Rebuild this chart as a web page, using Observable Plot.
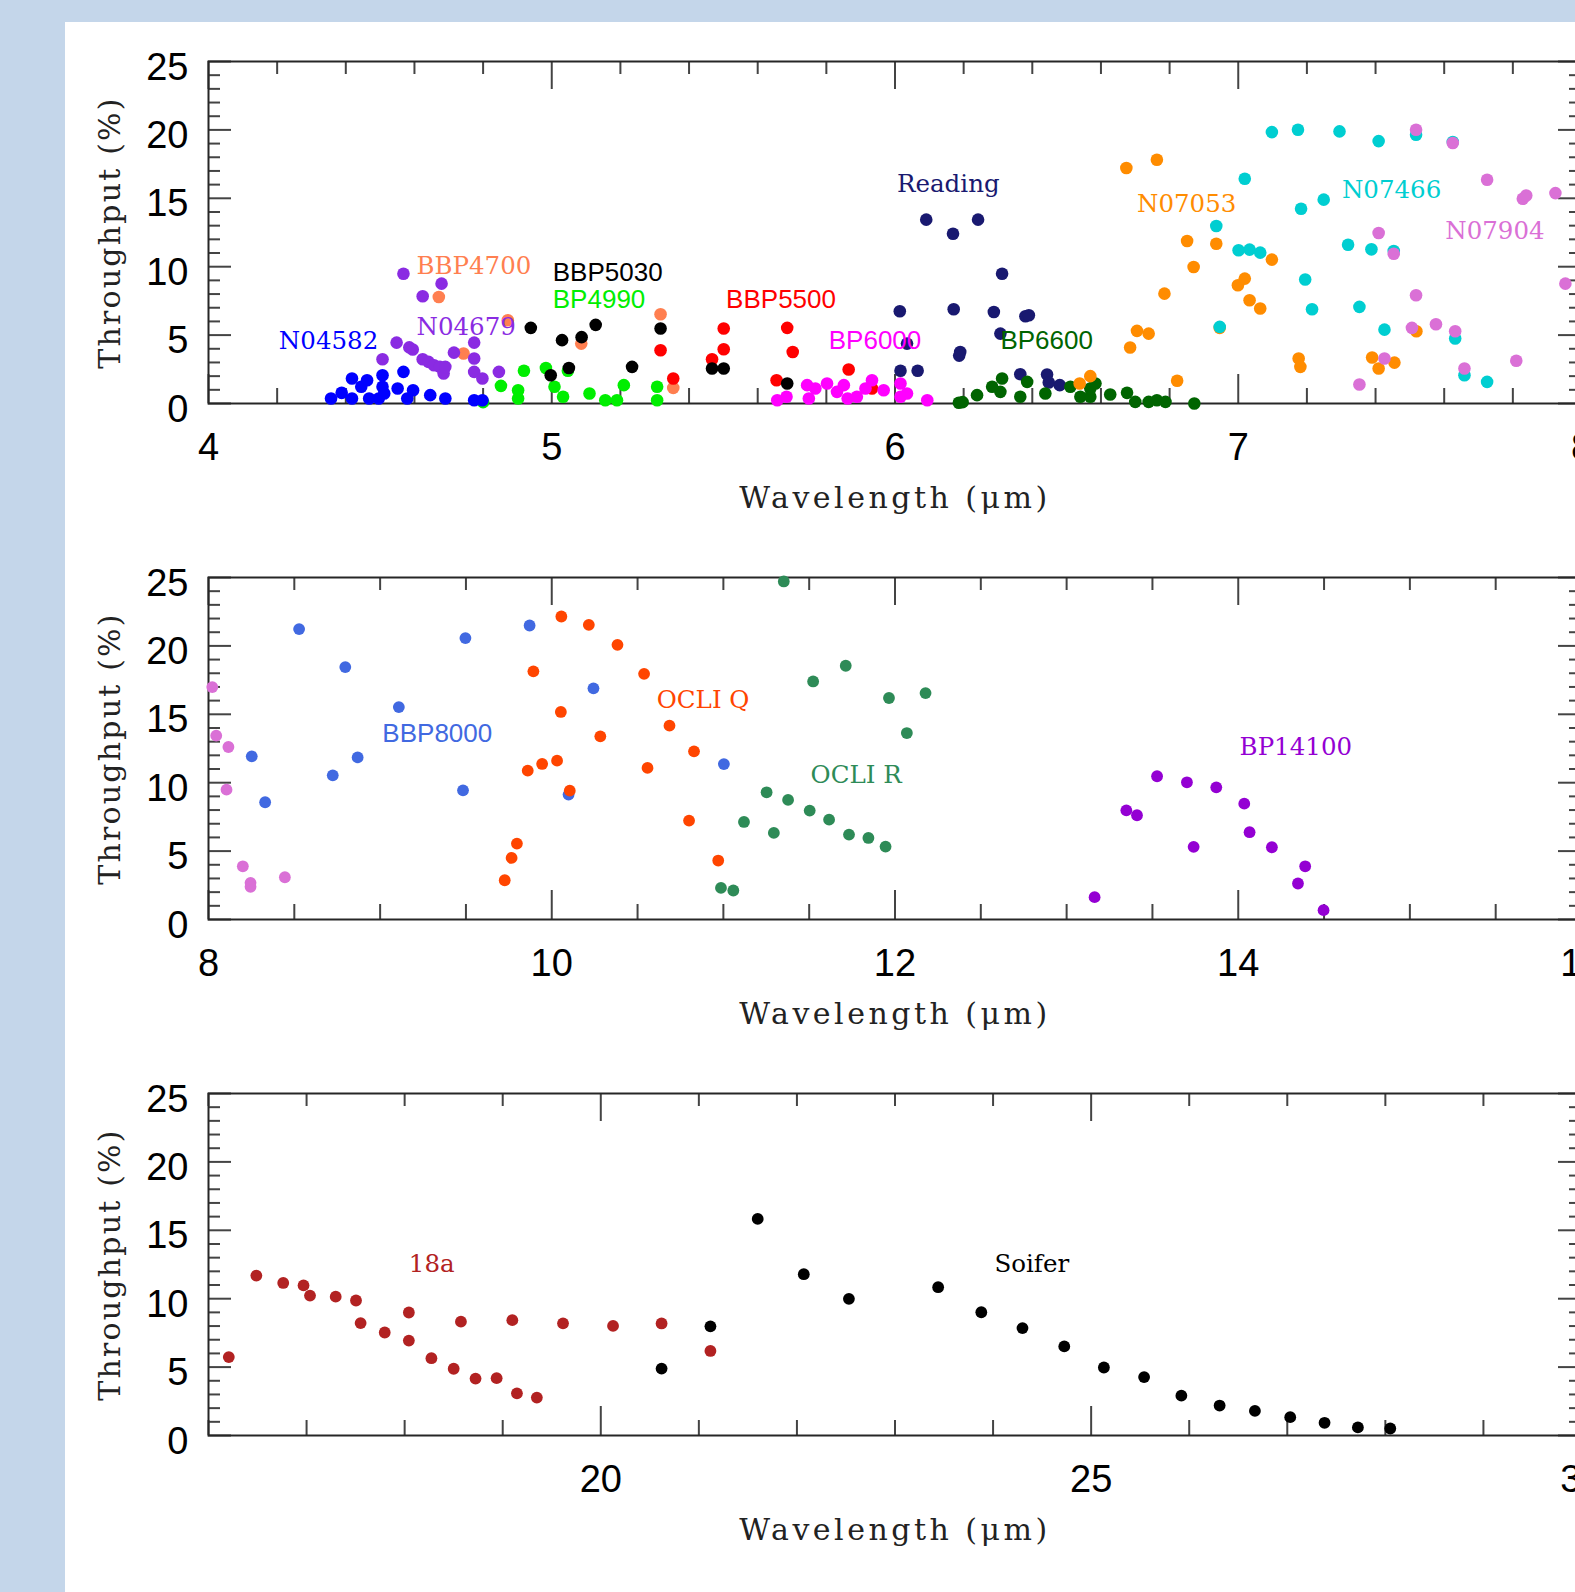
<!DOCTYPE html>
<html><head><meta charset="utf-8">
<script src="https://cdn.jsdelivr.net/npm/d3@7"></script>
<script src="https://cdn.jsdelivr.net/npm/@observablehq/plot@0.6"></script>
<style>
html,body{margin:0;padding:0;width:1575px;height:1592px;overflow:hidden;background:#c4d6ea;}
#sheet{position:absolute;left:65px;top:22px;right:0;bottom:0;background:#fff;}
.panel{position:absolute;left:0;width:1575px;height:516px;}
</style></head><body>
<div id="sheet"></div>
<div id="p1" class="panel" style="top:0px"></div>
<div id="p2" class="panel" style="top:516px"></div>
<div id="p3" class="panel" style="top:1032px"></div>
<script>
// ---------- data (wavelength µm, throughput %) ----------
const n04582 = [[4.357,0.37],[4.388,0.78],[4.418,1.83],[4.418,0.37],[4.445,1.22],[4.462,1.70],[4.468,0.37],[4.496,0.37],[4.507,2.07],[4.507,1.22],[4.512,0.73],[4.551,1.10],[4.568,2.31],[4.579,0.37],[4.596,0.97],[4.646,0.61],[4.690,0.37],[4.774,0.24],[4.798,0.24]];
const n04679 = [[4.568,9.49],[4.624,7.84],[4.679,8.76],[4.507,3.24],[4.548,4.45],[4.585,4.10],[4.595,3.95],[4.624,3.24],[4.641,3.04],[4.657,2.80],[4.674,2.68],[4.685,2.19],[4.690,2.68],[4.715,3.72],[4.774,4.45],[4.774,3.29],[4.774,2.31],[4.798,1.83],[4.846,2.31]];
const bbp4700 = [[4.671,7.79],[4.743,3.65],[4.872,6.09],[5.086,4.38],[5.317,6.52],[5.354,1.14]];
const bbp5030 = [[4.939,5.53],[4.997,2.07],[5.030,4.63],[5.050,2.60],[5.087,4.85],[5.128,5.75],[5.234,2.68],[5.317,5.48],[5.467,2.56],[5.501,2.56],[5.686,1.46]];
const bp4990 = [[4.800,0.10],[4.852,1.29],[4.902,0.97],[4.902,0.37],[4.919,2.39],[4.983,2.60],[5.008,1.22],[5.033,0.49],[5.047,2.39],[5.110,0.73],[5.156,0.24],[5.190,0.24],[5.210,1.34],[5.307,1.22],[5.307,0.24]];
const bbp5500 = [[5.317,3.89],[5.354,1.83],[5.467,3.24],[5.501,3.97],[5.501,5.48],[5.655,1.70],[5.686,5.53],[5.702,3.77],[5.865,2.48],[5.933,1.10]];
const bp6000 = [[5.657,0.24],[5.684,0.49],[5.744,1.34],[5.749,0.37],[5.768,1.10],[5.802,1.46],[5.831,0.85],[5.851,1.34],[5.862,0.37],[5.889,0.49],[5.914,1.10],[5.933,1.70],[5.967,0.97],[6.016,1.46],[6.016,0.49],[6.035,0.73],[6.094,0.24]];
const reading = [[6.014,6.74],[6.016,2.39],[6.035,4.38],[6.066,2.39],[6.091,13.44],[6.169,12.41],[6.171,6.89],[6.187,3.50],[6.190,3.77],[6.242,13.44],[6.288,6.69],[6.307,5.11],[6.312,9.49],[6.365,2.14],[6.380,6.38],[6.390,6.45],[6.443,2.12],[6.448,1.53],[6.480,1.34]];
const bp6600 = [[6.186,0.05],[6.197,0.10],[6.239,0.61],[6.283,1.22],[6.307,0.85],[6.312,1.83],[6.365,0.49],[6.385,1.58],[6.438,0.73],[6.511,1.22],[6.540,0.49],[6.569,0.49],[6.569,1.10],[6.584,1.46],[6.627,0.66],[6.676,0.78],[6.700,0.12],[6.739,0.12],[6.763,0.24],[6.788,0.12],[6.872,0.00]];
const n07053 = [[6.538,1.46],[6.569,2.00],[6.674,17.21],[6.685,4.09],[6.705,5.31],[6.739,5.11],[6.763,17.82],[6.785,8.03],[6.822,1.66],[6.851,11.88],[6.870,9.98],[6.936,11.68],[6.946,5.53],[6.999,8.64],[7.019,9.13],[7.033,7.55],[7.064,6.94],[7.098,10.52],[7.176,3.29],[7.181,2.68],[7.390,3.36],[7.409,2.56],[7.455,2.99],[7.519,5.28]];
const n07466 = [[6.936,12.97],[6.946,5.60],[7.001,11.20],[7.019,16.43],[7.033,11.25],[7.064,11.03],[7.098,19.84],[7.174,20.01],[7.183,14.24],[7.195,9.06],[7.215,6.89],[7.249,14.90],[7.295,19.89],[7.320,11.61],[7.353,7.06],[7.388,11.27],[7.409,19.18],[7.426,5.40],[7.453,11.15],[7.518,19.64],[7.625,19.11],[7.632,4.75],[7.659,2.07],[7.725,1.58]];
const n07904 = [[7.353,1.39],[7.409,12.46],[7.426,3.29],[7.453,10.95],[7.506,5.53],[7.518,20.01],[7.518,7.91],[7.576,5.79],[7.625,19.04],[7.632,5.28],[7.659,2.56],[7.725,16.36],[7.810,3.12],[7.829,14.97],[7.839,15.21],[7.924,15.38],[7.953,8.76],[8.022,16.99],[8.045,13.44],[8.105,9.49],[8.116,12.61],[8.200,3.89],[8.245,2.68],[8.245,2.39],[8.445,3.09]];
const bbp8000 = [[8.252,11.93],[8.330,8.57],[8.528,21.23],[8.724,10.54],[8.797,18.45],[8.869,11.85],[9.109,15.53],[9.483,9.44],[9.497,20.57],[9.871,21.49],[10.098,9.13],[10.243,16.90],[11.003,11.36]];
const ocliQ = [[9.726,2.87],[9.766,4.50],[9.797,5.55],[9.860,10.88],[9.893,18.14],[9.944,11.37],[10.031,11.61],[10.056,22.15],[10.053,15.17],[10.105,9.42],[10.216,21.54],[10.283,13.39],[10.383,20.08],[10.538,17.96],[10.558,11.08],[10.686,14.17],[10.800,7.23],[10.829,12.29],[10.970,4.31]];
const ocliR = [[10.986,2.31],[11.058,2.12],[11.120,7.13],[11.252,9.30],[11.294,6.33],[11.352,24.71],[11.377,8.74],[11.503,7.96],[11.523,17.40],[11.616,7.30],[11.713,18.55],[11.732,6.21],[11.845,5.96],[11.945,5.33],[11.965,16.19],[12.069,13.63],[12.178,16.55]];
const bp14100 = [[13.163,1.63],[13.348,7.98],[13.410,7.62],[13.527,10.47],[13.701,10.03],[13.740,5.31],[13.872,9.66],[14.035,8.47],[14.066,6.38],[14.196,5.28],[14.348,2.63],[14.390,3.89],[14.497,0.68]];
const f18a = [[16.207,5.73],[16.488,11.69],[16.762,11.15],[16.969,10.97],[17.035,10.23],[17.297,10.15],[17.504,9.87],[17.551,8.22],[17.797,7.53],[18.043,8.99],[18.043,6.94],[18.273,5.65],[18.500,4.88],[18.574,8.32],[18.723,4.16],[18.938,4.19],[19.098,8.43],[19.145,3.08],[19.348,2.77],[19.615,8.20],[20.125,8.01],[20.620,8.19],[21.118,6.18]];
const soifer = [[20.620,4.89],[21.118,7.98],[21.600,15.83],[22.070,11.79],[22.530,9.99],[23.440,10.84],[23.880,9.01],[24.300,7.85],[24.726,6.51],[25.130,4.97],[25.540,4.27],[25.920,2.91],[26.310,2.19],[26.670,1.80],[27.030,1.34],[27.380,0.93],[27.720,0.59],[28.050,0.51]];

// series label anchors [name, wavelength, throughput]
const labelsP1 = [["N04582",4.205,4.58],["BBP4700",4.606,10.05],["N04679",4.606,5.55],["BBP5030",5.003,9.57],["BP4990",5.003,7.62],["BBP5500",5.508,7.62],["BP6000",5.807,4.58],["Reading",6.006,16.04],["BP6600",6.307,4.58],["N07053",6.705,14.56],["N07466",7.302,15.63],["N07904",7.603,12.61]];
const labelsP2 = [["BBP8000",9.013,13.6],["OCLI Q",10.612,16.05],["OCLI R",11.508,10.55],["BP14100",14.008,12.59]];
const labelsP3 = [["18a",18.043,12.55],["Soifer",24.014,12.56]];

// tick labels
const yMajor = [0,5,10,15,20,25];
const xMajorP1 = [4,5,6,7,8];
const xMajorP2 = [8,10,12,14,16];
const xMajorP3 = [20,25,30];

// ---------- styles ----------
const seriesData = {"N04582":n04582,"N04679":n04679,"BBP4700":bbp4700,"BBP5030":bbp5030,"BP4990":bp4990,"BBP5500":bbp5500,"BP6000":bp6000,"Reading":reading,"BP6600":bp6600,"N07053":n07053,"N07466":n07466,"N07904":n07904,"BBP8000":bbp8000,"OCLI Q":ocliQ,"OCLI R":ocliR,"BP14100":bp14100,"18a":f18a,"Soifer":soifer};
const colors = {"N04582":"#0000ff","N04679":"#8a2be2","BBP4700":"#ff7f50","BBP5030":"#000000","BP4990":"#00ee00","BBP5500":"#ff0000","BP6000":"#ff00ff","Reading":"#191970","BP6600":"#006400","N07053":"#ff8c00","N07466":"#00ced1","N07904":"#da70d6","BBP8000":"#4169e1","OCLI Q":"#ff4500","OCLI R":"#2e8b57","BP14100":"#9400d3","18a":"#b22222","Soifer":"#000000"};
const sansLabels = new Set(["BBP5030","BP4990","BBP5500","BP6000","BP6600","BBP8000"]);

const panels = [
  {id:"p1", domain:[4,8], xMajor:xMajorP1, minorStep:0.2, r:6.3, labels:labelsP1,
   order:["BP4990","BBP4700","BBP5500","BBP5030","N04582","N04679","BP6000","Reading","BP6600","N07053","N07466","N07904"]},
  {id:"p2", domain:[8,16], xMajor:xMajorP2, minorStep:0.5, r:5.9, labels:labelsP2,
   order:["N07904","BBP8000","OCLI Q","OCLI R","BP14100"]},
  {id:"p3", domain:[16,30], xMajor:xMajorP3, minorStep:1, r:5.9, labels:labelsP3,
   order:["18a","Soifer"]}
];

const W = 1575, H = 516, mL = 208, mR = -6, mT = 61, mB = 113;
const FW = W - mL - mR, FH = H - mT - mB;
const tickColor = "#444", frameColor = "#262626";
const serif = "DejaVu Serif, Liberation Serif, serif";
const sans = "Liberation Sans, Arial, Helvetica, sans-serif";

for (const p of panels) {
  const [d0, d1] = p.domain;
  const pts = [];
  for (const name of p.order) for (const [x, y] of seriesData[name]) if (x >= d0 && x <= d1) pts.push({name, x, y});
  const labs = p.labels.map(([name, x, y]) => ({name, x, y}));
  const xMinor = d3.range(d0, d1 + 1e-9, p.minorStep).filter(v => !p.xMajor.some(m => Math.abs(m - v) < 1e-6));
  const yMinor = d3.range(0, 25.001, 1).filter(v => v % 5 !== 0);

  const svg = Plot.plot({
    width: W, height: H,
    marginLeft: mL, marginRight: mR, marginTop: mT, marginBottom: mB,
    x: {domain: p.domain, axis: null},
    y: {domain: [0, 25], axis: null},
    color: {type: "identity"},
    style: {background: "transparent", overflow: "hidden"},
    marks: [
      // inward ticks on all four sides
      Plot.tickX(p.xMajor, {x: d => d, insetTop: FH - 29, stroke: tickColor, strokeWidth: 2}),
      Plot.tickX(xMinor, {x: d => d, insetTop: FH - 15, stroke: tickColor, strokeWidth: 2}),
      Plot.tickX(p.xMajor, {x: d => d, insetBottom: FH - 28, stroke: tickColor, strokeWidth: 2}),
      Plot.tickX(xMinor, {x: d => d, insetBottom: FH - 13, stroke: tickColor, strokeWidth: 2}),
      Plot.tickY(yMajor, {y: d => d, insetRight: FW - 23, stroke: tickColor, strokeWidth: 2}),
      Plot.tickY(yMinor, {y: d => d, insetRight: FW - 12, stroke: tickColor, strokeWidth: 2}),
      Plot.tickY(yMajor, {y: d => d, insetLeft: FW - 23, stroke: tickColor, strokeWidth: 2}),
      Plot.tickY(yMinor, {y: d => d, insetLeft: FW - 12, stroke: tickColor, strokeWidth: 2}),
      Plot.frame({stroke: frameColor, strokeWidth: 2}),
      // tick labels
      Plot.text(p.xMajor, {x: d => d, text: d => String(d), frameAnchor: "bottom", dy: 44, lineAnchor: "middle", fontSize: 38, fontFamily: sans, fill: "#000"}),
      Plot.text(yMajor, {y: d => d, text: d => String(d), frameAnchor: "left", dx: -20, dy: 6, textAnchor: "end", lineAnchor: "middle", fontSize: 38, fontFamily: sans, fill: "#000"}),
      // axis titles
      Plot.text(["Wavelength (μm)"], {text: d => d, frameAnchor: "bottom", dy: 95, textAnchor: "middle", lineAnchor: "middle", fontSize: 30, fontFamily: serif, fill: "#222"}),
      Plot.text(["Throughput (%)"], {text: d => d, frameAnchor: "left", dx: -98, rotate: -90, textAnchor: "middle", lineAnchor: "middle", fontSize: 30, fontFamily: serif, fill: "#222"}),
      // data
      Plot.dot(pts, {x: "x", y: "y", r: p.r, fill: d => colors[d.name], stroke: "none"}),
      // series labels
      Plot.text(labs.filter(d => !sansLabels.has(d.name)), {x: "x", y: "y", text: "name", fill: d => colors[d.name], textAnchor: "start", lineAnchor: "middle", fontSize: 24.5, fontFamily: serif}),
      Plot.text(labs.filter(d => sansLabels.has(d.name)), {x: "x", y: "y", text: "name", fill: d => colors[d.name], textAnchor: "start", lineAnchor: "middle", fontSize: 26, fontFamily: sans})
    ]
  });
  svg.style.maxWidth = "none";
  svg.querySelectorAll("text").forEach(t => {
    const s = t.textContent;
    if (s.startsWith("Wavelength")) t.setAttribute("letter-spacing", "3.5");
    else if (s.startsWith("Throughput")) t.setAttribute("letter-spacing", "2.2");
  });
  document.getElementById(p.id).appendChild(svg);
}
</script>
</body></html>
